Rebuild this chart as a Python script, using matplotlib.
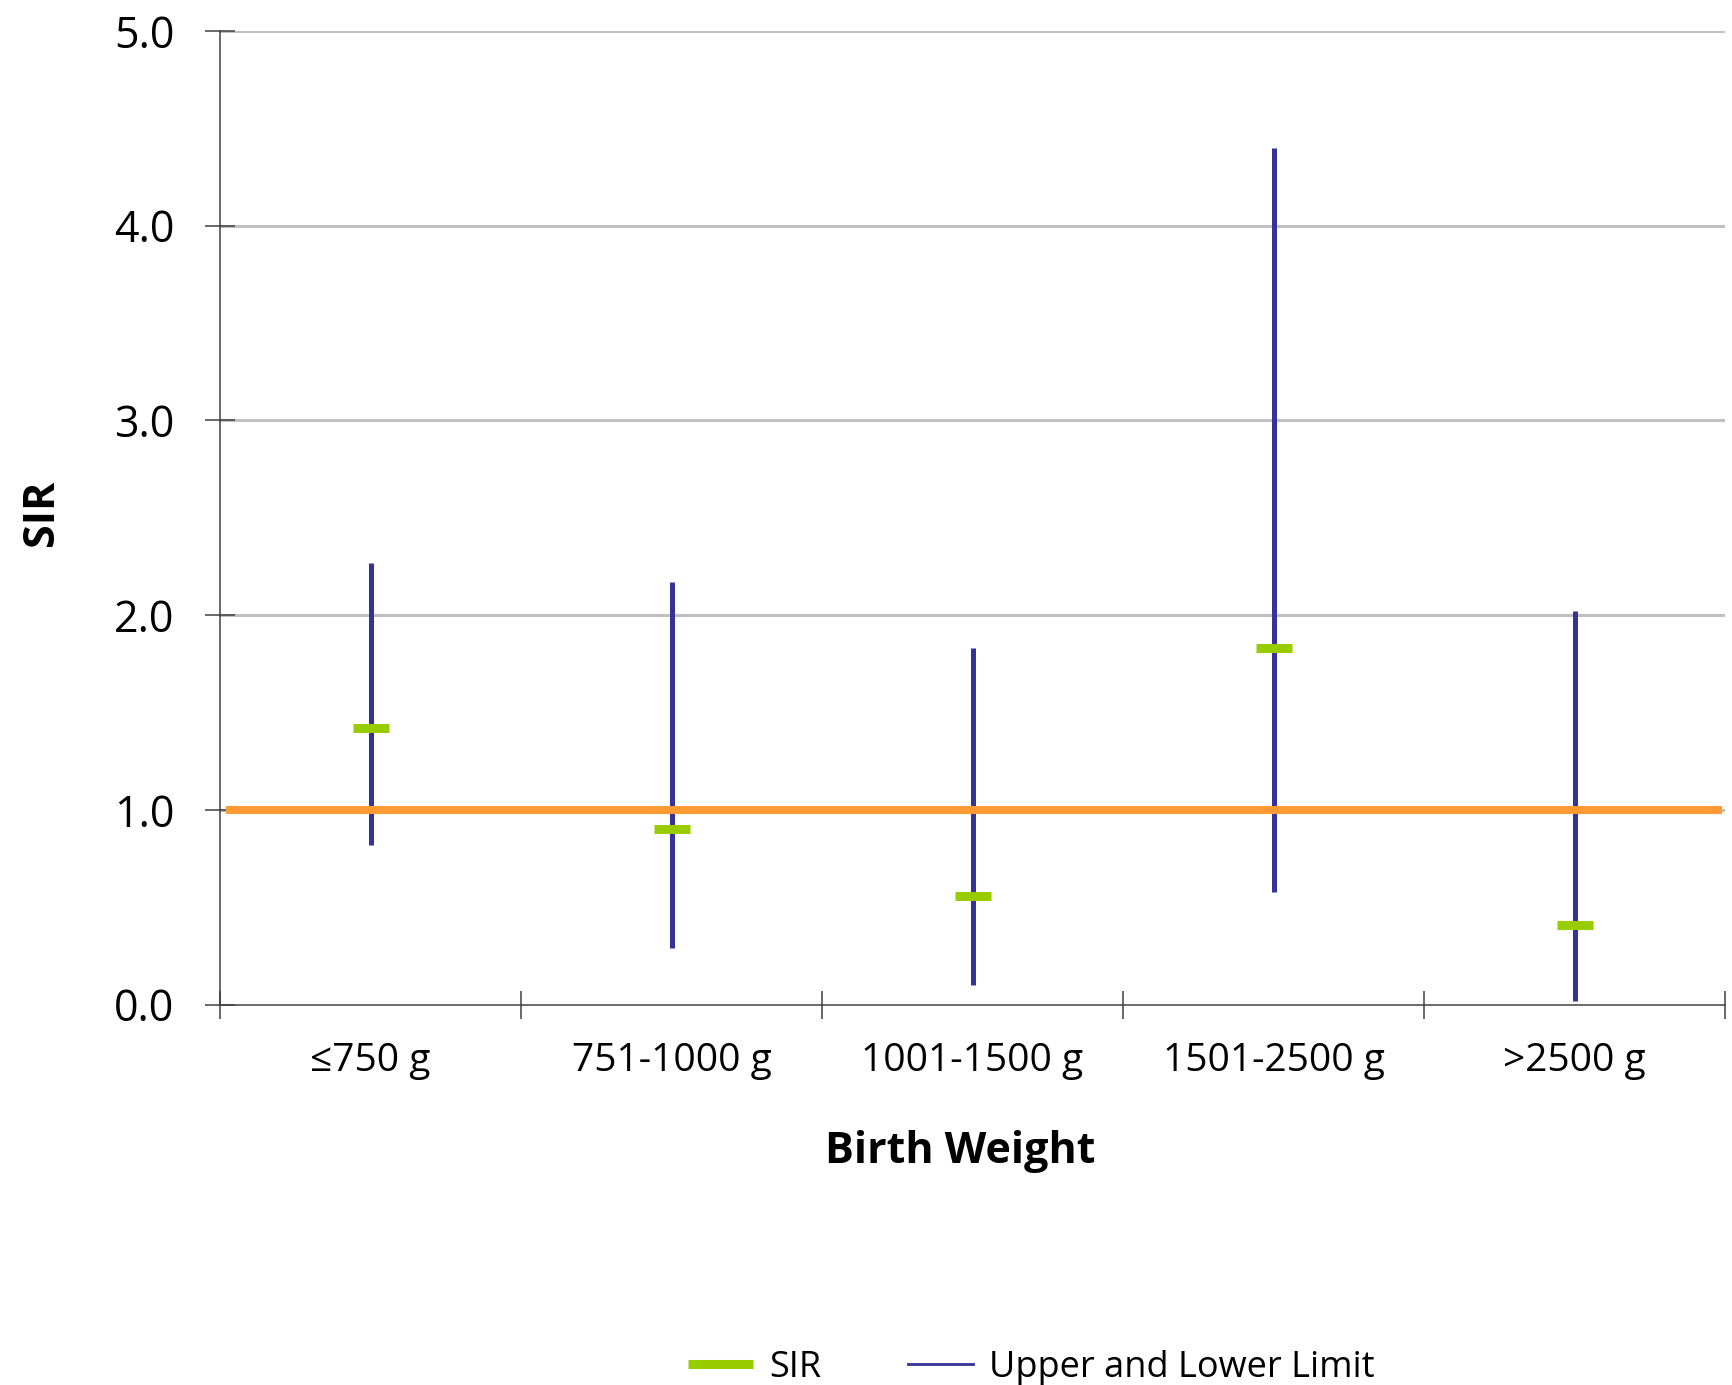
import matplotlib
matplotlib.use("Agg")
import matplotlib.pyplot as plt
from matplotlib.lines import Line2D
import numpy as np

plt.rcParams['font.family'] = ['Open Sans', 'DejaVu Sans']

categories = ['≤750 g', '751-1000 g', '1001-1500 g', '1501-2500 g', '>2500 g']
sir = [1.42, 0.90, 0.56, 1.83, 0.41]
upper = [2.27, 2.17, 1.83, 4.40, 2.02]
lower = [0.82, 0.29, 0.10, 0.58, 0.02]
reference = 1.0
y_ticks = [0.0, 1.0, 2.0, 3.0, 4.0, 5.0]

BLUE = '#333399'
GREEN = '#99CC00'
ORANGE = '#FF9933'

fig = plt.figure(figsize=(17.33, 13.85), dpi=100)
ax = fig.add_axes([0.1270, 0.2747, 0.8684, 0.7029])

x = np.arange(len(categories))

for yv in y_ticks[1:]:
    ax.axhline(yv, color='#C0C0C0', lw=2.2, zorder=1)

ax.vlines(x, lower, upper, color=BLUE, lw=3.6, zorder=3)
ax.plot([-0.48, len(categories) - 0.51], [reference, reference], color=ORANGE, lw=5.8,
        solid_capstyle='butt', zorder=4)
ax.plot(x, sir, linestyle='none', marker='_', markersize=26, markeredgewidth=6.5,
        color=GREEN, zorder=5)

ax.set_xlim(-0.5, len(categories) - 0.5)
ax.set_ylim(0, 5)

ax.set_yticks(y_ticks)
ax.set_yticklabels([f'{v:.1f}' for v in y_ticks])
ax.tick_params(axis='y', direction='inout', length=22, width=1.1, color='#404040',
               labelsize=31, pad=22)

ax.set_xticks(np.arange(-0.5, len(categories), 1.0))
ax.set_xticklabels([])
ax.set_xticks(x, minor=True)
ax.set_xticklabels(categories, minor=True)
ax.tick_params(axis='x', which='major', direction='inout', length=20, width=1.1, color='#404040')
ax.tick_params(axis='x', which='minor', length=0, labelsize=28, pad=27)

for s in ['top', 'right']:
    ax.spines[s].set_visible(False)
for s in ['left', 'bottom']:
    ax.spines[s].set_color('#404040')
    ax.spines[s].set_linewidth(1.1)

ax.set_xlabel('Birth Weight', fontsize=31, fontweight='bold', va='center')
ax.xaxis.set_label_coords(0.492, -0.151)
ax.set_ylabel('SIR', fontsize=31, fontweight='bold', va='center')
ax.yaxis.set_label_coords(-0.119, 0.505)

handles = [Line2D([], [], color=GREEN, lw=6.5, solid_capstyle='butt'),
           Line2D([], [], color=BLUE, lw=2.0)]
fig.legend(handles, ['SIR', 'Upper and Lower Limit'], loc='center',
           bbox_to_anchor=(0.595, 0.0125), ncol=2, frameon=False, fontsize=26,
           handlelength=1.8, handletextpad=0.45, columnspacing=2.4)

fig.savefig('out.png', dpi=100)
